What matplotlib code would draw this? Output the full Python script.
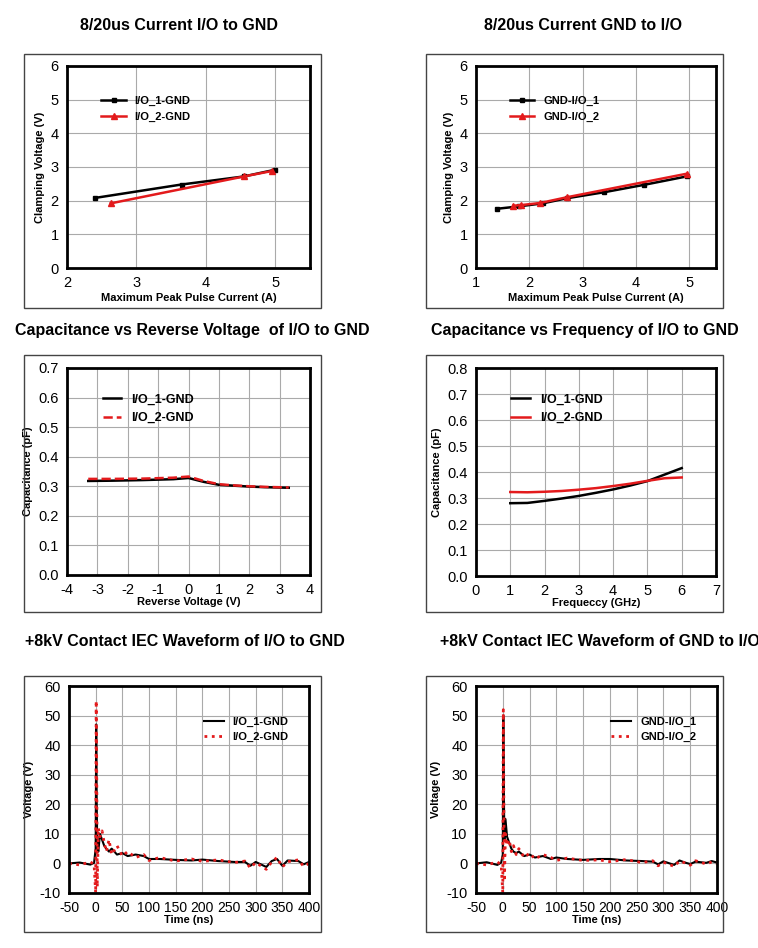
#!/usr/bin/env python3
"""Six-panel ESD diode characteristic sheet: clamping, capacitance and IEC waveforms.
Produces out.png."""
import matplotlib
matplotlib.use("Agg")
import matplotlib.pyplot as plt
from matplotlib.patches import Rectangle

plt.rcParams["font.family"] = ["Liberation Sans", "DejaVu Sans"]
plt.rcParams["axes.unicode_minus"] = False

# 8/20us clamping
ipp_io1 = [2.4, 3.65, 4.55, 5.0]; vc_io1 = [2.08, 2.48, 2.72, 2.92]
ipp_io2 = [2.63, 4.55, 4.95];     vc_io2 = [1.92, 2.72, 2.88]
ipp_g1 = [1.4, 1.8, 2.25, 2.7, 3.4, 4.15, 4.95]; vc_g1 = [1.76, 1.83, 1.92, 2.07, 2.25, 2.47, 2.72]
ipp_g2 = [1.7, 1.85, 2.2, 2.7, 4.95];            vc_g2 = [1.85, 1.87, 1.93, 2.1, 2.8]
# capacitance vs reverse voltage
vr = [-3.3, -2.5, -1.5, -0.5, 0.0, 0.5, 1.0, 1.5, 2.0, 2.5, 3.3]
c_vr1 = [0.318, 0.319, 0.321, 0.324, 0.328, 0.315, 0.305, 0.302, 0.299, 0.297, 0.295]
c_vr2 = [0.325, 0.325, 0.326, 0.329, 0.333, 0.318, 0.307, 0.303, 0.300, 0.298, 0.296]
# capacitance vs frequency
f_ghz = [1.0, 1.5, 2.0, 2.5, 3.0, 3.5, 4.0, 4.5, 5.0, 5.5, 6.0]
c_f1 = [0.28, 0.281, 0.289, 0.298, 0.308, 0.32, 0.333, 0.348, 0.365, 0.39, 0.415]
c_f2 = [0.323, 0.322, 0.324, 0.327, 0.332, 0.338, 0.346, 0.355, 0.366, 0.376, 0.379]
# 8kV contact waveforms
t_ns = [-50, -30, -10, -3, 0, 1, 2, 3, 5, 8, 12, 16, 20, 25, 30, 40, 50, 60, 75, 90, 100, 120, 150,
        180, 200, 230, 260, 280, 290, 300, 320, 330, 340, 350, 360, 380, 390, 400]
v_io1 = [0, 0.3, -0.4, 0.2, 5, 47, 20, 6, 4, 10, 8, 6, 5, 4, 5, 3, 3.5, 2.5, 3, 2.5, 1.5, 1.5, 1.2,
         1.0, 1.3, 0.8, 0.5, 0.5, -0.8, 0.5, -1.2, 0.8, 1.5, -0.8, 1.0, 0.8, -0.3, 0.5]
v_io2 = [0, -0.5, 0.5, -0.3, -10, 55, 30, -8, 12, 9, 11, 7, 4, 8, 3, 6, 2.5, 4, 2, 3, 1, 2, 0.8,
         1.5, 0.7, 1.2, 0.3, 0.8, -1.5, 0.3, -2, 0.5, 2, -1.2, 0.6, 1.2, -1, 0]
v_g1 = [0, 0.4, -0.5, 0.3, 3, 50, 25, 8, 15, 9, 7, 5, 4, 3.5, 4, 2.5, 3, 2, 2.5, 1.5, 2, 1.5, 1.2,
        1.5, 1.5, 1.0, 0.8, 0.6, -0.3, 0.7, -0.5, 1.0, 0.3, -0.2, 0.6, 0.2, 0.8, 0.3]
v_g2 = [0, -0.5, 0.5, -0.5, -10, 52, 20, -6, 10, 6, 8, 4, 6, 3, 5, 2, 3.5, 1.5, 3, 2, 1, 1.8, 1,
        1.2, 0.6, 1.3, 0.3, 0.9, -0.8, 0.4, -1, 0.8, 0.2, -0.6, 0.9, -0.2, 0.5, 0]

W, H = 758, 948
fig = plt.figure(figsize=(W/100, H/100), dpi=100)

def panel(box, area, title, ty, tx, tsize=10.5):
    """box/area in pixels (x0, y0, x1, y1); returns axes."""
    fig.add_artist(Rectangle((box[0]/W, 1-box[3]/H), (box[2]-box[0])/W, (box[3]-box[1])/H,
                             transform=fig.transFigure, fill=False, ec="#444", lw=1))
    ax = fig.add_axes([area[0]/W, 1-area[3]/H, (area[2]-area[0])/W, (area[3]-area[1])/H])
    for s in ax.spines.values(): s.set_linewidth(2)
    ax.grid(color="#aaa", lw=0.8); ax.set_axisbelow(True)
    ax.tick_params(length=0, labelsize=tsize, pad=6)
    fig.text(tx/W, 1-ty/H, title, ha="center", va="center", fontsize=11.5, fontweight="bold")
    return ax

ax1 = panel((24, 54, 321, 308), (67, 66, 310, 268), "8/20us Current I/O to GND", 25, 179)
ax2 = panel((426, 54, 723, 308), (476, 66, 716, 268), "8/20us Current GND to I/O", 25, 583)
ax3 = panel((24, 355, 321, 612), (67, 368, 310, 575), "Capacitance vs Reverse Voltage  of I/O to GND", 330, 192)
ax4 = panel((426, 355, 723, 612), (476, 368, 716, 576), "Capacitance vs Frequency of I/O to GND", 330, 585)
ax5 = panel((24, 676, 321, 932), (69, 686, 309, 893), "+8kV Contact IEC Waveform of I/O to GND", 642, 185, 10)
ax6 = panel((426, 676, 723, 932), (476, 686, 717, 893), "+8kV Contact IEC Waveform of GND to I/O", 642, 600, 10)

ax1.plot(ipp_io1, vc_io1, "s-", color="black", ms=3, lw=1.8, label="I/O_1-GND")
ax1.plot(ipp_io2, vc_io2, "^-", color="#e31a1c", ms=4, lw=1.8, label="I/O_2-GND")
ax1.set_xlim(2, 5.5); ax1.set_ylim(0, 6); ax1.set_xticks([2, 3, 4, 5])
ax2.plot(ipp_g1, vc_g1, "s-", color="black", ms=3, lw=1.8, label="GND-I/O_1")
ax2.plot(ipp_g2, vc_g2, "^-", color="#e31a1c", ms=4, lw=1.8, label="GND-I/O_2")
ax2.set_xlim(1, 5.5); ax2.set_ylim(0, 6); ax2.set_xticks([1, 2, 3, 4, 5])
for ax in (ax1, ax2):
    ax.set_xlabel("Maximum Peak Pulse Current (A)", fontsize=8, fontweight="bold", labelpad=2)
    ax.set_ylabel("Clamping Voltage (V)", fontsize=8, fontweight="bold")
    ax.legend(loc="upper left", bbox_to_anchor=(0.1, 0.9), frameon=False,
              prop={"weight": "bold", "size": 8}, handlelength=2.2)

ax3.plot(vr, c_vr1, "-", color="black", lw=1.8, label="I/O_1-GND")
ax3.plot(vr, c_vr2, "--", color="#e31a1c", lw=1.8, label="I/O_2-GND")
ax3.set_xlim(-4, 4); ax3.set_ylim(0, 0.7); ax3.set_xticks(range(-4, 5))
ax3.set_xlabel("Reverse Voltage (V)", fontsize=8, fontweight="bold", labelpad=0)
ax4.plot(f_ghz, c_f1, "-", color="black", lw=1.8, label="I/O_1-GND")
ax4.plot(f_ghz, c_f2, "-", color="#e31a1c", lw=1.8, label="I/O_2-GND")
ax4.set_xlim(0, 7); ax4.set_ylim(0, 0.8); ax4.set_xticks(range(0, 8))
ax4.set_yticks([i/10 for i in range(9)])
ax4.set_xlabel("Frequeccy (GHz)", fontsize=8, fontweight="bold", labelpad=0)
for ax in (ax3, ax4):
    ax.set_ylabel("Capacitance (pF)", fontsize=8, fontweight="bold")
    ax.legend(loc="upper left", bbox_to_anchor=(0.1, 0.93), frameon=False,
              prop={"weight": "bold", "size": 9}, handlelength=1.5)

ax5.plot(t_ns, v_io1, "-", color="black", lw=1.5, label="I/O_1-GND")
ax5.plot(t_ns, v_io2, ":", color="#e31a1c", lw=2, label="I/O_2-GND")
ax6.plot(t_ns, v_g1, "-", color="black", lw=1.5, label="GND-I/O_1")
ax6.plot(t_ns, v_g2, ":", color="#e31a1c", lw=2, label="GND-I/O_2")
for ax in (ax5, ax6):
    ax.set_xlim(-50, 400); ax.set_ylim(-10, 60); ax.set_xticks(range(-50, 401, 50))
    ax.tick_params(axis="y", labelsize=10.5)
    ax.set_xlabel("Time (ns)", fontsize=8, fontweight="bold", labelpad=0)
    ax.set_ylabel("Voltage (V)", fontsize=8, fontweight="bold")
    ax.legend(loc="upper left", bbox_to_anchor=(0.52, 0.9), frameon=False,
              prop={"weight": "bold", "size": 8}, handlelength=1.8)

fig.savefig("out.png", dpi=100)
